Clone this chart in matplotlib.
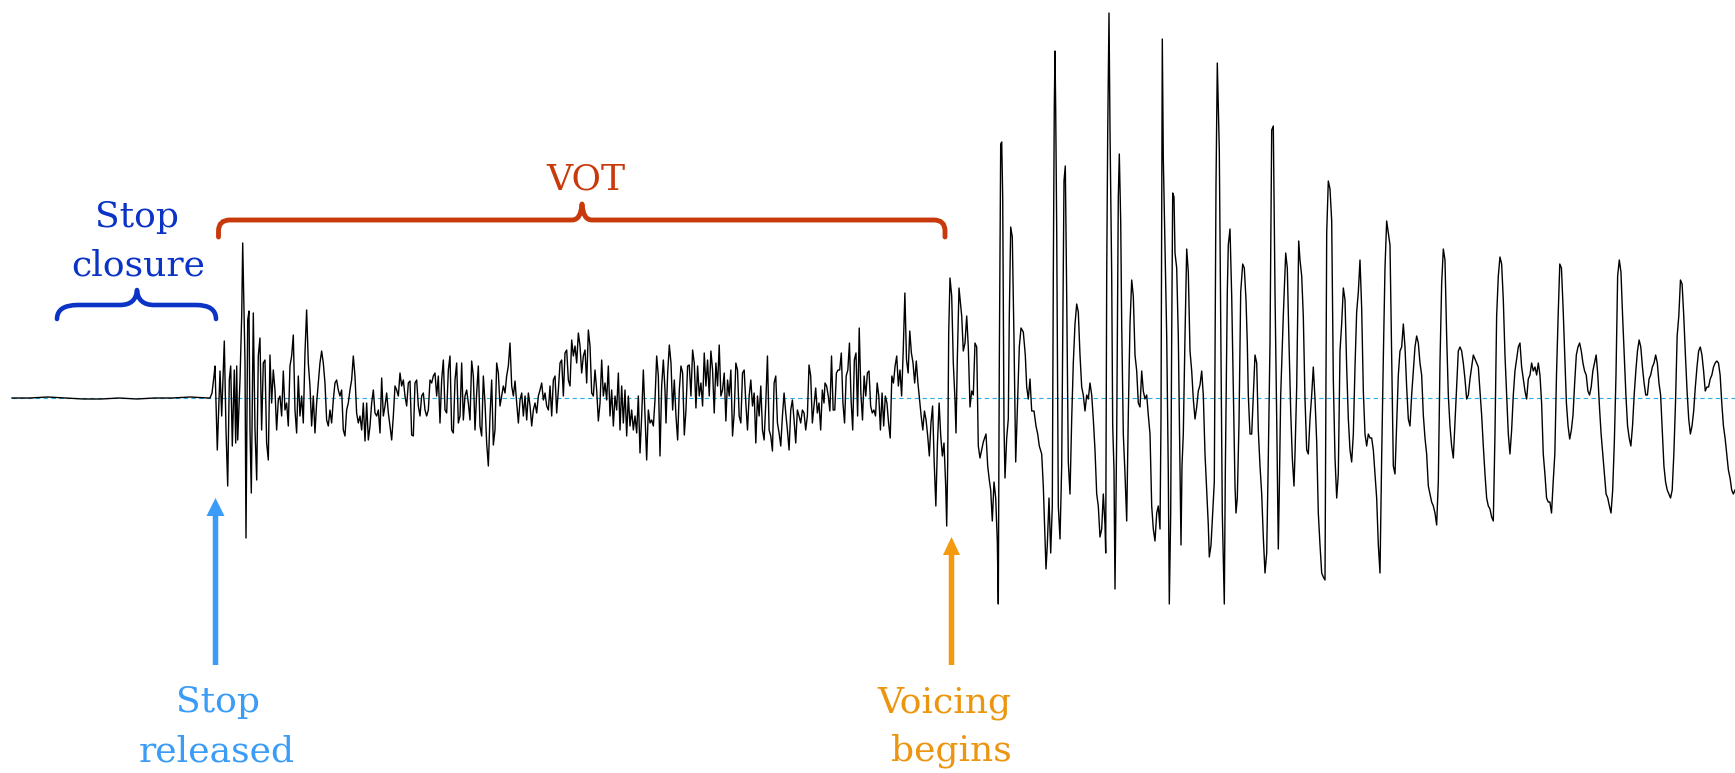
import numpy as np
import matplotlib.pyplot as plt
from matplotlib.path import Path
from matplotlib.patches import PathPatch, FancyArrow

# ── Canvas (1 data unit = 1 output pixel) ────────────────────────────────
W, H = 1735, 773
BASE_Y = 398          # pixel row of the zero line
FONT = "DejaVu Serif"

C_CLOSURE = "#0b33c6"
C_VOT = "#c8390b"
C_RELEASE = "#3a9cf6"
C_VOICE = "#f39a0e"
C_ZERO = "#2aaee2"

# ── Waveform data (time in px columns, amplitude in px above zero) ───────
# stop closure: near-silent
closure_span = (12, 208)
closure_amp = [0, 0, 1, 0, -1, -1, 0, -1, 0, 0, 1, 0]

# release burst (irregular sample times)
burst_t = [210, 212, 214, 215, 217.3, 220, 221.7, 224.3, 226, 227.7, 229.3, 230.7,
           232.3, 234.3, 235.7, 236.7, 237.7, 240, 241.7, 242.7, 244.3, 245, 246,
           247.7, 249, 250, 251.3, 253.3, 255, 256.7]
burst_amp = [0, 5, 22, 32, -52, 27, -18, 57, -32, -88, 18, 32, -48, 28, -45, 32, -42,
             18, 82, 155, 75, 35, -140, 78, 87, -32, -95, 85, -32, -82]

# aspiration noise, evenly sampled pieces
asp1_span = (258.3, 358.3)
asp1_amp = [42, 60, -32, 35, 38, -45, -62, 43, -5, 28,
            8, -32, -2, 2, -18, 27, -12, -5, -28, 32,
            42, 63, -12, -35, 22, -18, 2, -25, 45, 88,
            35, 12, -28, 2, -35, -5, 15, 35, 47, 35,
            15, -22, -28, -12, -25, -2, 15, 18, 8, 2,
            8, -32, -38, -12, -5, 8, 18, 42, 22, -15, -25]

asp2_span = (360, 510)
asp2_amp = [-18, -32, -5, -43, -5, -42, -28, -5, 8, -15,
            -18, -12, -35, 20, -18, -8, 5, -15, -28, -42,
            -18, 12, 8, 2, 25, 12, 18, 2, -8, 15,
            17, -37, -38, 15, 18, -8, -18, 2, 5, -12,
            -18, -12, 18, 15, 22, 25, 2, 22, -25, 18,
            38, -12, -15, 28, 42, -32, -35, 18, 35, -25,
            -18, 35, -22, 2, 8, -5, -22, 37, 22, -32,
            5, 32, -28, -38, 22, -5, -45, -68, -18, 18,
            -47, -32, 35, 25, -8, 2, 12, 5, 22, 32, 55]

asp3_span = (511.7, 665)
asp3_amp = [12, 2, 17, -5, -25, -2, 5, -18, 2, -22,
            5, -8, -28, -12, -5, -15, 2, 8, 15, -2,
            5, -8, -12, 12, -18, 18, 22, -15, 8, 35,
            38, 2, 45, 48, 18, 12, 58, 42, 52, 35,
            65, 52, 25, 42, 48, 15, 68, 52, 5, 2,
            28, 8, -23, -5, 38, 2, 15, -2, 32, -18,
            8, -28, 2, -12, 25, -32, 12, -25, 8, -38,
            2, -28, -12, -32, -18, -35, 2, -55, -18, 28,
            -18, -62, -12, -25, -22, -28, -2, 42, 22, -58,
            12, 38, 8]

asp4_span = (666, 824)
asp4_amp = [-25, 25, 53, 35, -12, 18, -18, -42, 8, 32,
            25, -37, -12, 32, 33, 2, 48, 35, -10, 32,
            2, 15, -8, 45, 12, 38, 2, 47, 28, -15,
            35, 12, 53, 2, 8, 25, -23, 18, 2, 28,
            -38, -15, 35, 28, -18, -25, 25, 28, -5, -32,
            2, 18, -8, 5, -45, 2, -18, 12, -32, -42,
            -5, 42, -32, -38, -53, 15, 22, -25, -35, -48,
            -18, 5, -15, -32, -52, -12, -2, -22, -45, -12,
            -18, -25, -12, -15, -32, -18, 33, 22, -25, -8,
            10, -15, -5, -32, 8, -5]

asp5_span = (825, 944)
asp5_amp = [15, 12, 2, -13, 42, -12, -12, 25, 28, 28,
            45, -5, -25, 22, 28, 55, -2, -32, 38, 45,
            -18, 70, 5, -22, 22, 2, 25, 27, -8, -15,
            -12, -18, 15, 2, -32, 5, -28, 2, -5, -25,
            -40, 22, 15, 32, 42, 12, 28, 2, 48, 105,
            38, 25, 67, 45, 35, 15, 37, 15, -2, -18,
            -32, -13, -22, -38, -58, -25, -8, -65, -108, -45,
            -5, -38, -58, -45]

# voicing onset and first glottal pulses (irregular sample times)
onset_t = [945.7, 946.7, 947.7, 948.7, 950, 951.7, 953.3, 955, 956, 957.3, 959]
onset_amp = [-88, -128, -65, 65, 120, 102, 35, -2, -35, 38, 110]

voice1_t = [961.7, 963.3, 965, 966.7, 968.3, 970, 971.7, 973.3, 975, 976.7,
            978.3, 980, 983.3, 986, 987.7, 989.3, 990.7, 992.3, 994, 995.7,
            997.3, 998.3, 999.3, 1000.7, 1001.7, 1002.7, 1004, 1005, 1006.7, 1008.3,
            1009.3, 1010.7, 1012.3, 1014, 1015.7, 1017.3, 1019.3, 1021, 1023.3, 1025.3,
            1026.7, 1028.3, 1030, 1031.7, 1034, 1036, 1037.7, 1039.3, 1041.7, 1043.3,
            1045, 1046, 1047.3, 1049, 1050.7, 1052.3, 1053.3, 1054.3, 1055, 1055.7,
            1056.7, 1058.3, 1060, 1061.7, 1063.3, 1064, 1065.3, 1066.7, 1068.3, 1070,
            1071.7, 1073.3, 1075, 1076.7, 1078.3, 1080, 1081.7, 1083.3, 1085, 1086.7,
            1088.3, 1090, 1091.7, 1093.3, 1095, 1096.7, 1098.3, 1100, 1101.7, 1103.3,
            1105, 1105.7, 1106.7, 1107.7, 1109, 1110, 1111.7, 1112.7, 1114, 1115,
            1116.7, 1118.3, 1119.3, 1120.7, 1121.7, 1123.3, 1125, 1126.7, 1128.3, 1130,
            1131.7, 1133.3, 1135, 1136.7, 1138.3, 1140, 1141.7, 1143.3, 1145, 1146.7,
            1148.3, 1150]
voice1_amp = [82, 47, 55, 82, 51, -9, 7, 3, 55, 51,
              -48, -60, -44, -36, -68, -82, -92, -123, -84, -100,
              -143, -206, 35, 254, 256, 201, -28, -80, -40, -21,
              82, 171, 161, 58, -64, -13, 51, 70, 66, 43,
              11, -1, 19, -13, -13, -28, -36, -48, -56, -88,
              -139, -171, -147, -100, -155, -108, 122, 292, 347, 288,
              169, -108, -141, -68, 122, 217, 232, 102, -64, -96,
              -21, 35, 74, 94, 86, 43, 11, 3, -13, 3,
              -1, 15, 3, -21, -52, -96, -108, -139, -131, -96,
              -127, -155, 122, 264, 385, 268, 122, -28, -72, -191,
              -36, 201, 244, 177, 74, -36, -76, -123, -17, 74,
              118, 102, 43, 27, -5, -9, 27, 7, -1, 3,
              -17, -36]

voice2_t = [1151.7, 1153.3, 1155, 1156.7, 1158.3, 1160, 1161, 1162.3, 1163.3, 1165,
            1166.7, 1168.3, 1169.3, 1170.7, 1171.7, 1172.7, 1174, 1175, 1176.7, 1178.3,
            1180, 1181, 1182, 1183.3, 1185, 1186.7, 1188.3, 1190, 1191.7, 1193.3,
            1195, 1196.7, 1198.3, 1200, 1201.7, 1203.3, 1205, 1206.7, 1208.3, 1209.3,
            1211, 1212.7, 1214.3, 1216, 1217.3, 1218.3, 1219.3, 1220.7, 1222.3, 1223.3,
            1224.3, 1225.3, 1227.3, 1228.3, 1230, 1231.7, 1233.3, 1235, 1236, 1237.3,
            1239, 1240.7, 1242.7, 1244.3, 1246, 1247.3, 1248.3, 1250, 1251.7, 1253.3,
            1255, 1256.7, 1258.3, 1260, 1261.7, 1263.3, 1265, 1266.7, 1268.3, 1270,
            1271.7, 1273.3, 1275, 1276.7, 1278.3, 1279.3, 1280.7, 1283.3, 1285.7, 1287.3,
            1289, 1290.7, 1292.3, 1294, 1295, 1296.7, 1298.7, 1300, 1301.7, 1303.3,
            1305, 1306.7, 1308.3, 1310, 1311.7, 1313.3, 1315, 1316.7, 1318.3, 1320,
            1321.7, 1323.3, 1325, 1326.7, 1328.3, 1330, 1331.7, 1333.3, 1335, 1336.7,
            1338.3]
voice2_amp = [-108, -131, -143, -115, -108, -131, -21, 359, 240, 153,
              62, -76, -206, -115, 62, 205, 201, 145, 130, 62,
              -68, -147, -68, -36, 62, 149, 126, 47, 27, -1,
              -21, -9, 7, 13, 27, 3, -56, -92, -127, -159,
              -147, -115, -84, 213, 335, 292, 248, 82, -115, -163,
              -206, -76, 106, 153, 169, 102, 11, -88, -115, -100,
              -25, 106, 134, 130, 98, 55, 3, -36, -36, 3,
              43, 35, -32, -68, -96, -139, -175, -155, -60, 55,
              268, 272, 106, -21, -151, -92, 3, 82, 145, 130,
              55, -13, -60, -88, -56, 11, 157, 138, 122, 82,
              -1, -52, -56, -21, 3, 31, -1, -44, -115, -147,
              -175, -179, -182, 165, 217, 209, 177, 19, -60, -100,
              -76]

# steady voicing, evenly sampled
voice3_span = (1340, 1533.3)
voice3_amp = [47, 74, 110, 98, 31, -21, -52, -64, -36, 31,
              86, 106, 138, 90, 7, -36, -48, -36, -40, -40,
              -52, -76, -100, -147, -175, -60, 40, 130, 177, 165,
              153, 43, -68, -76, -28, 23, 47, 51, 74, 51,
              11, -21, -28, 3, 27, 51, 62, 55, 35, 23,
              -17, -40, -56, -88, -96, -104, -108, -115, -127, -84,
              35, 114, 149, 138, 62, 3, -28, -48, -60, -25,
              11, 47, 51, 47, 35, 19, -1, 3, 19, 31,
              43, 39, 35, 31, 7, -17, -48, -76, -100, -108,
              -111, -119, -123, -36, 82, 122, 141, 134, 98, 43,
              3, -36, -56, -32, 3, 27, 39, 51, 55, 31,
              19, 7, -1, 19, 23, 35, 27]

voice4_span = (1535, 1735)
voice4_amp = [31, 23, 35, 23, -5, -56, -76, -100, -104, -104,
              -115, -84, -56, 23, 82, 134, 130, 90, 43, -5,
              -28, -41, -32, -17, 15, 43, 51, 55, 47, 35,
              27, 23, 7, 3, 11, 27, 35, 43, 23, -9,
              -36, -56, -76, -96, -100, -108, -115, -92, -44, 23,
              122, 138, 126, 82, 43, 3, -28, -40, -48, -28,
              3, 27, 47, 58, 51, 31, 15, 3, 3, 19,
              23, 31, 35, 43, 35, 15, 3, -32, -68, -84,
              -92, -96, -100, -92, -56, -5, 62, 82, 118, 114,
              82, 43, 7, -21, -36, -28, -13, 11, 31, 47,
              51, 43, 27, 7, 11, 11, 19, 23, 31, 35,
              37, 35, 23, -5, -28, -40, -56, -72, -80, -92,
              -96, -92]


def even(span, amp):
    return np.linspace(span[0], span[1], len(amp)), np.asarray(amp, float)


def py(y):
    """pixel row -> data y"""
    return BASE_Y - y


def brace(ax, pts, color, lw):
    verts, codes = [pts[0]], [Path.MOVETO]
    for kind, *p in pts[1:]:
        if kind == "L":
            verts.append(p[0]); codes.append(Path.LINETO)
        else:
            verts += [p[0], p[1]]; codes += [Path.CURVE3, Path.CURVE3]
    verts = [(x, py(y)) for x, y in verts]
    ax.add_patch(PathPatch(Path(verts, codes), fill=False, edgecolor=color,
                           lw=lw, capstyle="round", joinstyle="round", zorder=4))


pieces = [even(closure_span, closure_amp),
          (np.array(burst_t), np.array(burst_amp, float)),
          even(asp1_span, asp1_amp), even(asp2_span, asp2_amp),
          even(asp3_span, asp3_amp), even(asp4_span, asp4_amp),
          even(asp5_span, asp5_amp),
          (np.array(onset_t), np.array(onset_amp, float)),
          (np.array(voice1_t), np.array(voice1_amp, float)),
          (np.array(voice2_t), np.array(voice2_amp, float)),
          even(voice3_span, voice3_amp), even(voice4_span, voice4_amp)]
t = np.concatenate([p[0] for p in pieces])
amp = np.concatenate([p[1] for p in pieces])

fig = plt.figure(figsize=(W / 100, H / 100), dpi=100)
ax = fig.add_axes([0, 0, 1, 1])
ax.set_xlim(0, W)
ax.set_ylim(BASE_Y - H, BASE_Y)
ax.axis("off")

ax.axhline(0, xmin=12 / W, xmax=1, color=C_ZERO, lw=0.8, dashes=(4, 3), zorder=1)
ax.plot(t, amp, color="#000000", lw=1.0, zorder=2)

# ── Stop closure ──
brace(ax, [(57, 319), ("Q", (57, 305), (78, 305)), ("L", (120, 305)),
           ("Q", (136, 305), (137, 290)), ("Q", (138, 305), (154, 305)),
           ("L", (196, 305)), ("Q", (216, 305), (216, 319))], C_CLOSURE, 3.3)
ax.text(137, py(227), "Stop", ha="center", va="baseline", color=C_CLOSURE,
        fontsize=26, family=FONT)
ax.text(138, py(276), "closure", ha="center", va="baseline", color=C_CLOSURE,
        fontsize=26, family=FONT)

# ── VOT ──
brace(ax, [(218.5, 237), ("L", (218.5, 231)), ("Q", (218.5, 220), (230, 220)),
           ("L", (572, 220)), ("Q", (581, 220), (582, 204)),
           ("Q", (583, 220), (592, 220)), ("L", (934, 220)),
           ("Q", (945, 220), (945, 231)), ("L", (945, 237))], C_VOT, 3.5)
ax.text(586, py(190), "VOT", ha="center", va="baseline", color=C_VOT,
        fontsize=26, family=FONT)

# ── Stop released ──
ax.add_patch(FancyArrow(215.5, py(665), 0, 167, width=5.5, head_width=18,
                        head_length=18, length_includes_head=True,
                        color=C_RELEASE, lw=0, zorder=4))
ax.text(218, py(712), "Stop", ha="center", va="baseline", color=C_RELEASE,
        fontsize=26, family=FONT)
ax.text(217, py(761), "released", ha="center", va="baseline", color=C_RELEASE,
        fontsize=26, family=FONT)

# ── Voicing begins ──
ax.add_patch(FancyArrow(951.5, py(665), 0, 128, width=5.5, head_width=17,
                        head_length=18, length_includes_head=True,
                        color=C_VOICE, lw=0, zorder=4))
ax.text(944, py(712), "Voicing", ha="center", va="baseline", color="#ec950f",
        fontsize=26, family=FONT)
ax.text(951, py(761), "begins", ha="center", va="baseline", color="#ec950f",
        fontsize=26, family=FONT)

fig.savefig("out.png", dpi=100)
